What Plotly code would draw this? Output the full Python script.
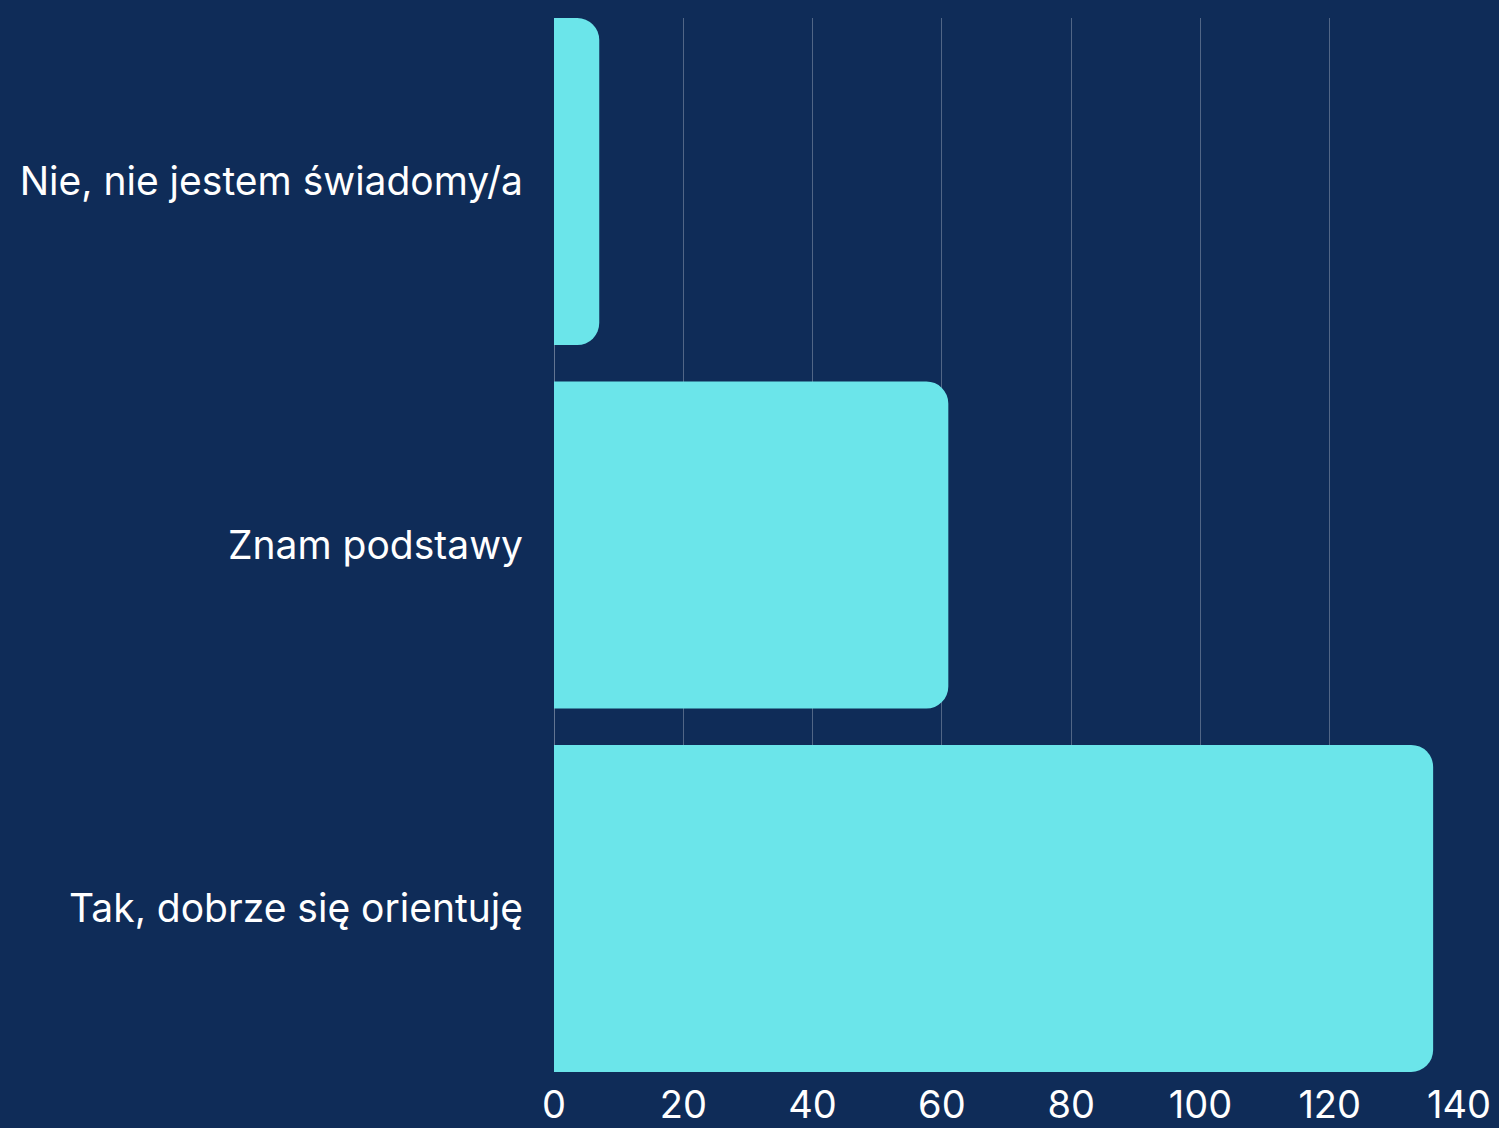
import plotly.graph_objects as go

# Survey answers, listed bottom to top
categories = ["Tak, dobrze się orientuję", "Znam podstawy", "Nie, nie jestem świadomy/a"]
counts = [136, 61, 7]
x_ticks = [0, 20, 40, 60, 80, 100, 120, 140]

bg = "#0F2C58"
bar_color = "#6BE5EA"

fig = go.Figure(
    go.Bar(
        y=categories,
        x=counts,
        orientation="h",
        marker=dict(color=bar_color, line=dict(width=0)),
    )
)

fig.update_layout(
    width=1499,
    height=1128,
    paper_bgcolor=bg,
    plot_bgcolor=bg,
    margin=dict(l=554, r=40, t=18, b=56),
    bargap=0.1,
    barcornerradius=22,
    showlegend=False,
    font=dict(family="Inter", size=38, color="white"),
)

fig.update_xaxes(
    range=[0, 140],
    tickvals=x_ticks,
    automargin=False,
    showgrid=True,
    gridcolor="rgba(255,255,255,0.28)",
    gridwidth=1,
    zeroline=True,
    zerolinecolor="rgba(255,255,255,0.35)",
    zerolinewidth=1,
    showline=False,
    ticks="",
    ticklabelstandoff=7,
    tickfont=dict(size=38, color="white"),
)

fig.update_yaxes(
    range=[-0.45, 2.45],
    automargin=False,
    showgrid=False,
    zeroline=False,
    showline=False,
    ticks="",
    ticklabelstandoff=30,
    tickfont=dict(size=39, color="white"),
)

fig.write_html("out.html")
